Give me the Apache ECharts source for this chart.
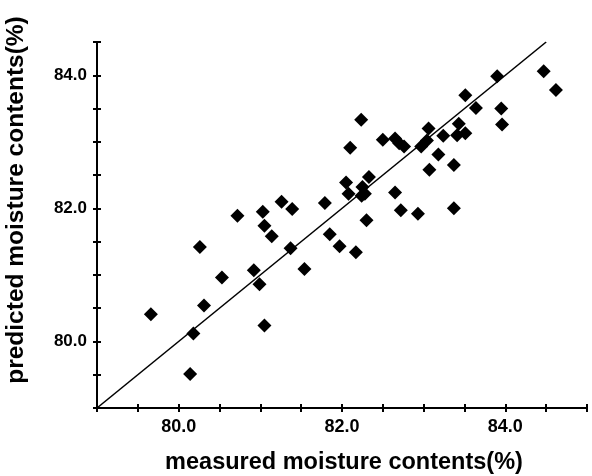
<!DOCTYPE html>
<html>
<head>
<meta charset="utf-8">
<script src="https://cdn.jsdelivr.net/npm/echarts@6/dist/echarts.min.js"></script>
<style>html,body{margin:0;padding:0;background:#fff}#c{width:592px;height:476px}</style>
</head>
<body>
<div id="c"></div>
<script>
const measured = [79.66,80.14,80.18,80.26,80.31,80.53,80.72,80.92,80.99,81.03,81.05,81.05,81.14,81.26,81.37,81.39,81.54,81.79,81.85,81.97,82.05,82.08,82.10,82.17,82.24,82.25,82.28,82.30,82.33,82.235,82.50,82.65,82.65,82.70,82.72,82.76,82.93,82.97,83.04,83.06,83.07,83.18,83.24,83.37,83.37,83.41,83.43,83.51,83.51,83.64,83.90,83.95,83.96,84.47,84.62];
const predicted = [80.41,79.51,80.12,81.42,80.54,80.96,81.89,81.07,80.86,81.95,81.74,80.24,81.58,82.10,81.40,81.99,81.09,82.08,81.61,81.43,82.39,82.22,82.91,81.34,82.19,82.32,82.22,81.82,82.47,83.33,83.03,82.24,83.05,82.98,81.97,82.93,81.92,82.93,83.02,83.20,82.58,82.81,83.09,82.65,82.00,83.10,83.27,83.13,83.70,83.51,83.985,83.50,83.26,84.06,83.78];
const fitLineX = [79.0, 84.5];
const fitLineY = [79.0, 84.5];
const xTickLabels = [80, 82, 84];
const yTickLabels = [80, 82, 84];

const points = measured.map((m, i) => [m, predicted[i]]);
const linePts = fitLineX.map((x, i) => [x, fitLineY[i]]);

const FONT = 'Liberation Sans, Arial, sans-serif';
const isLabel = (list, v) => list.some(t => Math.abs(t - v) < 1e-6);

const chart = echarts.init(document.getElementById('c'));
chart.setOption({
  animation:false,
  backgroundColor:'#fff',
  grid:{left:97, right:5, top:42, bottom:68, containLabel:false, outerBoundsMode:'none'},
  xAxis:[{
    type:'value', min:79, max:85, interval:0.5, position:'bottom',
    axisLine:{lineStyle:{color:'#000', width:2}},
    axisTick:{show:true, length:4, lineStyle:{color:'#000', width:2}},
    splitLine:{show:false},
    axisLabel:{margin:10, color:'#000', fontFamily:FONT, fontWeight:'bold', fontSize:18,
      formatter:v => isLabel(xTickLabels, v) ? v.toFixed(1) : ''},
    name:'measured moisture contents(%)', nameLocation:'middle', nameGap:43,
    nameTextStyle:{color:'#000', fontFamily:FONT, fontSize:23.5, fontWeight:'bold', padding:[0,0,0,4]}
  },{
    type:'value', min:79, max:85, interval:0.5, position:'bottom',
    axisLine:{show:false},
    axisTick:{show:true, inside:true, length:4, lineStyle:{color:'#000', width:2}},
    axisLabel:{show:false}, splitLine:{show:false}
  }],
  yAxis:[{
    type:'value', min:79, max:84.5, interval:0.5, position:'left',
    axisLine:{lineStyle:{color:'#000', width:2}},
    axisTick:{show:true, length:4, lineStyle:{color:'#000', width:2}},
    splitLine:{show:false},
    axisLabel:{margin:10, color:'#000', fontFamily:FONT, fontWeight:'bold', fontSize:17,
      formatter:v => isLabel(yTickLabels, v) ? v.toFixed(1) : ''},
    name:'predicted moisture contents(%)', nameLocation:'middle', nameGap:68, nameRotate:90,
    nameTextStyle:{color:'#000', fontFamily:FONT, fontSize:24.5, fontWeight:'bold', padding:[0,0,0,50]}
  },{
    type:'value', min:79, max:84.5, interval:0.5, position:'left',
    axisLine:{show:false},
    axisTick:{show:true, inside:true, length:4, lineStyle:{color:'#000', width:2}},
    axisLabel:{show:false}, splitLine:{show:false}
  }],
  series:[
    {type:'line', data:linePts, symbol:'none', lineStyle:{color:'#000', width:1.6}, silent:true, z:1},
    {type:'scatter', data:points, symbol:'diamond', symbolSize:14, itemStyle:{color:'#000', opacity:1}, z:2}
  ]
});
</script>
</body>
</html>
